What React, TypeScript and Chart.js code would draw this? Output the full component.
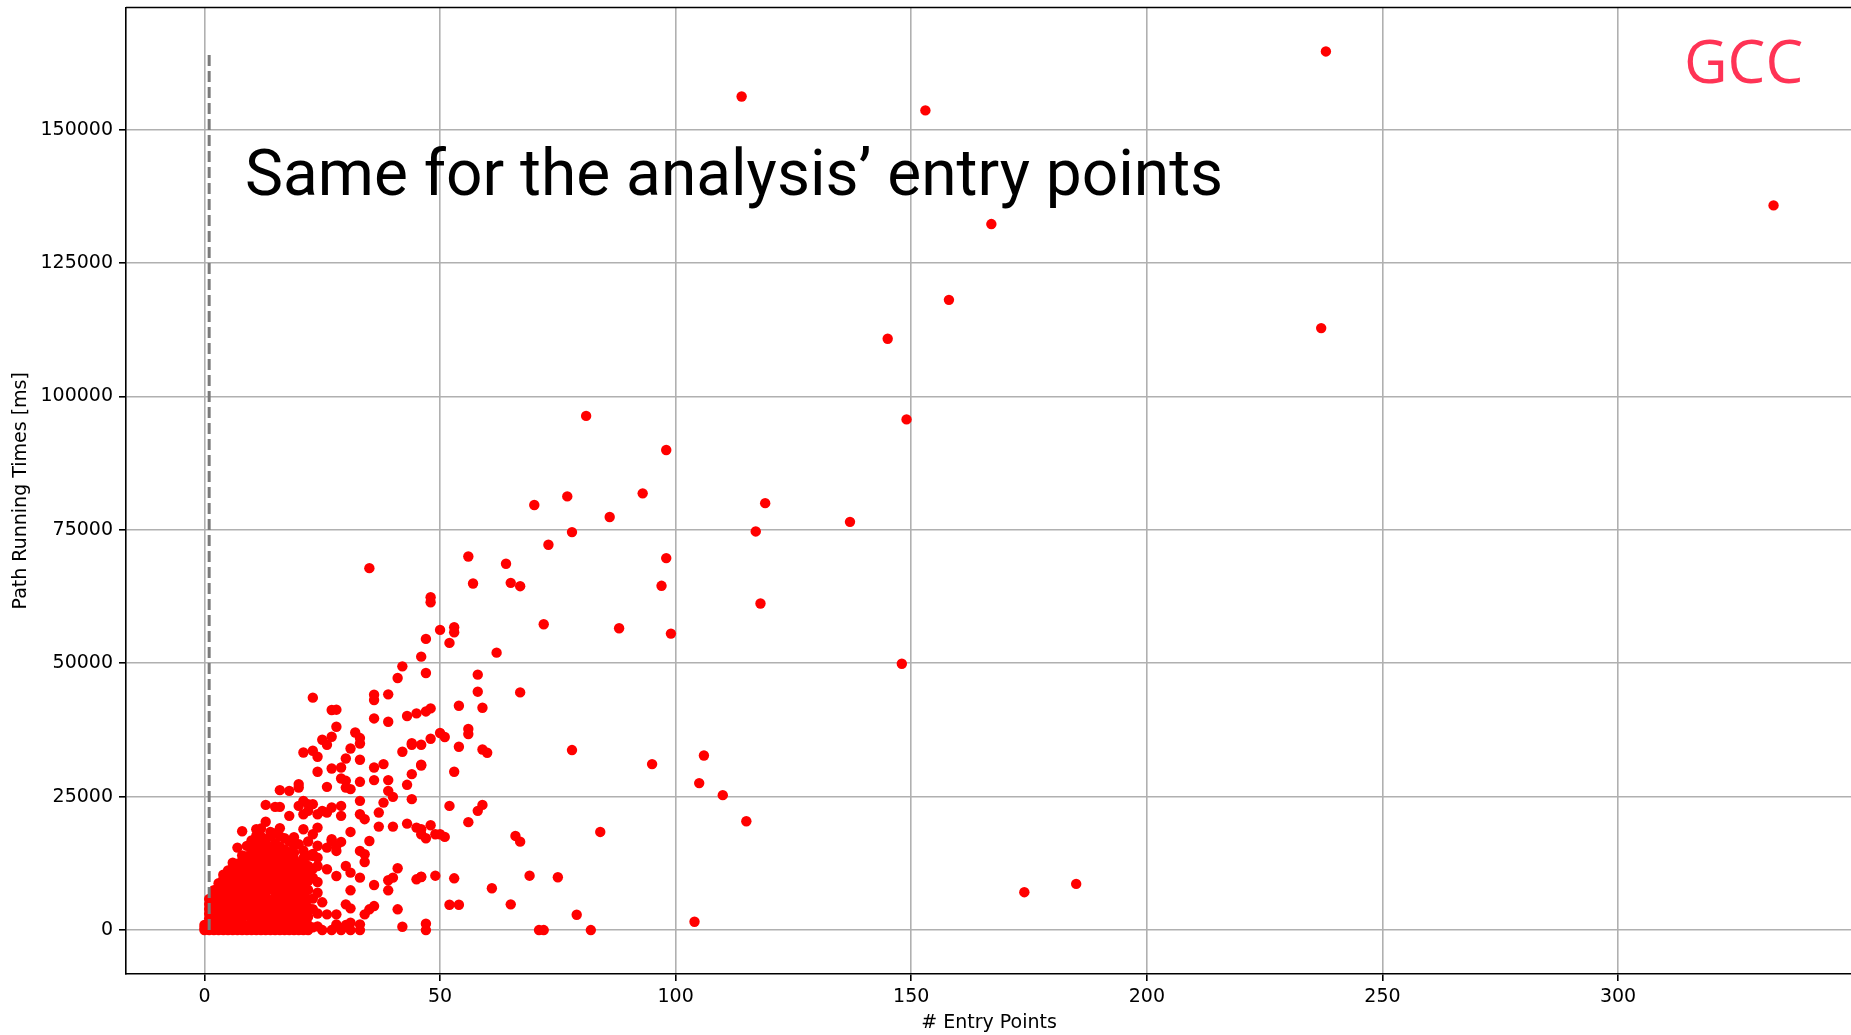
import React, { useEffect, useRef } from 'react';
import { Chart, registerables } from 'chart.js';

Chart.register(...registerables);

// Axis ticks
const xTickValues = [0, 50, 100, 150, 200, 250, 300];
const yTickValues = [0, 25000, 50000, 75000, 100000, 125000, 150000];

// Dense core: one column of running times (ms) per entry-point count 0..22
const coreEntryCounts = [0, 1, 2, 3, 4, 5, 6, 7, 8, 9, 10, 11, 12, 13, 14, 15, 16, 17, 18, 19, 20, 21, 22];
const coreTimes: number[][] = [
  [0, 380, 950],
  [0, 520, 1340, 2150, 3080, 3960, 4870, 5820],
  [0, 240, 930, 1760, 2690, 3640, 4480, 5430, 6380, 7460],
  [0, 610, 1480, 2420, 3290, 4310, 5170, 6140, 7060, 7990, 8790],
  [0, 290, 1120, 2030, 2870, 3920, 4760, 5740, 6690, 7620, 8580, 9530, 10380],
  [0, 720, 1590, 2530, 3460, 4420, 5380, 6330, 7280, 8260, 9240, 10170, 11160],
  [0, 410, 1230, 2080, 3040, 3970, 4990, 5920, 6880, 7870, 8910, 9830, 10790, 11680, 12630],
  [0, 780, 1720, 2640, 3580, 4530, 5470, 6520, 7480, 8530, 9460, 10420, 11380, 12440, 15450],
  [0, 330, 1270, 2230, 3170, 4140, 5090, 6080, 7130, 8040, 8990, 10030, 10980, 12010, 12960, 13980, 18520],
  [0, 880, 2870, 3830, 4790, 5820, 6790, 7830, 8760, 9810, 10760, 11820, 12790, 13840, 15770],
  [0, 470, 1480, 2440, 3380, 4370, 5330, 6290, 7320, 8210, 9230, 10180, 11230, 12170, 13210, 14180, 15230, 16790],
  [0, 1030, 1980, 3010, 3920, 4880, 5930, 6870, 7920, 8860, 9930, 10870, 11910, 12880, 13930, 14870, 15920, 16880, 17690, 18900],
  [0, 420, 1390, 2380, 3430, 4460, 5520, 6480, 7530, 8470, 9520, 10480, 11530, 12470, 13520, 14470, 15510, 16490, 17480, 19020],
  [0, 870, 1910, 2930, 3870, 4980, 6030, 7010, 7980, 9040, 9970, 11040, 11980, 13030, 13960, 15020, 15980, 17030, 20300],
  [0, 530, 1520, 2470, 3530, 4580, 5610, 7620, 8580, 9640, 10580, 11620, 12570, 13630, 14560, 15640, 17520, 18370],
  [0, 1080, 2120, 3070, 4130, 5170, 6230, 7180, 8230, 9180, 10230, 11170, 12240, 13180, 14230, 15160, 16220, 18100],
  [0, 630, 1570, 2630, 3680, 4720, 5680, 6730, 7680, 8720, 9680, 10730, 11680, 12720, 13670, 14720, 15680, 17570, 19100],
  [0, 970, 2030, 2980, 4030, 5070, 6130, 7070, 8120, 9080, 10130, 11070, 12130, 13070, 14120, 15080, 17200],
  [0, 480, 1530, 2480, 3520, 4570, 5630, 6580, 7630, 8570, 9630, 10570, 11630, 12580, 13620, 14580, 16570],
  [0, 1220, 2280, 3430, 4480, 5630, 6680, 7830, 8870, 10030, 11080, 12230, 13280, 14470, 15880, 17400],
  [0, 690, 1830, 2970, 4230, 5380, 6620, 7770, 9030, 10180, 11430, 12570, 16080],
  [0, 1380, 2830, 4170, 5630, 6980, 8420, 9770, 11230, 12380, 13470, 14900],
  [0, 920, 2480, 4130, 5770, 7530, 9180, 10830, 12030, 13900],
];

// Scattered runs with fewer than ~50 entry points: [entry points, ms]
const nearSpread: [number, number][] = [
  [13, 23460], [15, 23090], [16, 23090], [16, 26220], [18, 26090], [18, 21400], [20, 27350], [20, 23270],
  [20, 26710], [21, 24210], [21, 21710], [22, 23590], [22, 22340], [23, 23590], [24, 21710], [25, 22340],
  [21, 18900], [23, 17960], [24, 19200], [26, 15450], [27, 16700], [28, 15770], [23, 14250], [24, 13570],
  [23, 13890], [26, 22020], [27, 22960], [29, 23270], [29, 21400], [33, 21710], [34, 20780], [37, 22020],
  [37, 19390], [40, 19390], [43, 19950], [45, 19200], [46, 17960], [47, 17210], [48, 19650], [49, 17960],
  [35, 16700], [31, 18390], [29, 16520], [27, 17020], [28, 14830], [33, 14830], [34, 14210], [34, 12760],
  [24, 12010], [26, 11390], [30, 12010], [31, 10760], [33, 9820], [28, 10140], [36, 8450], [39, 9330],
  [40, 9820], [41, 11580], [39, 7450], [45, 9510], [46, 10000], [49, 10190], [31, 7450], [30, 4820],
  [31, 4070], [35, 3890], [36, 4500], [34, 2950], [41, 3890], [26, 2950], [28, 2950], [28, 1070],
  [30, 940], [31, 1370], [33, 1070], [33, 0], [42, 620], [47, 1180], [47, 0], [24, 700],
  [23, 500], [25, 0], [27, 0], [29, 0], [31, 0], [24, 9000], [24, 7000], [23, 5900],
  [23, 3900], [24, 3100], [25, 5200], [23, 9800], [23, 11500], [24, 15800], [22, 16600],
  [27, 41240], [28, 41300], [23, 43550], [36, 44110], [36, 43110], [39, 44170], [36, 39660], [39, 39040],
  [43, 40110], [45, 40600], [47, 40970], [48, 41540], [28, 38100], [32, 37030], [33, 35980], [33, 34970],
  [25, 35660], [26, 34720], [27, 36230], [21, 33280], [23, 33600], [24, 32470], [31, 34030], [42, 33410],
  [44, 35040], [44, 34720], [36, 30460], [30, 32150], [33, 31910], [24, 29660], [27, 30280], [29, 30460],
  [29, 28400], [30, 27970], [33, 27780], [36, 28100], [39, 28100], [44, 29220], [46, 30970], [43, 27220],
  [26, 26840], [31, 26410], [30, 26700], [38, 31100], [41, 47240], [42, 49420], [46, 51240], [47, 54560],
  [47, 48180], [40, 24960], [39, 26090], [38, 23890], [33, 24210], [44, 24530],
];

// Runs with more entry points, below 100 s
const midSpread: [number, number][] = [
  [48, 62370], [48, 61430], [50, 56250], [53, 56750], [53, 55800], [52, 53810], [62, 51990], [72, 57300],
  [88, 56560], [99, 55560], [58, 47860], [58, 44670], [67, 44540], [54, 42040], [59, 41670], [56, 37670],
  [56, 36730], [50, 36920], [51, 36170], [48, 35850], [46, 34720], [54, 34350], [59, 33840], [60, 33220],
  [46, 30840], [53, 29660], [78, 33730], [95, 31100], [106, 32720], [105, 27540], [110, 25280], [115, 20400],
  [52, 23270], [59, 23460], [58, 22340], [56, 20220], [46, 18900], [50, 17960], [51, 17460], [66, 17640],
  [67, 16570], [84, 18390], [46, 9950], [53, 9700], [69, 10190], [75, 9890], [61, 7830], [52, 4750],
  [54, 4750], [65, 4820], [79, 2870], [104, 1560], [71, 0], [72, 0], [82, 0],
  [81, 96350], [98, 89970], [77, 81270], [93, 81840], [70, 79650], [86, 77400], [78, 74580], [73, 72200],
  [35, 67820], [56, 70010], [98, 69700], [64, 68640], [57, 64940], [65, 65070], [67, 64440], [97, 64510],
];

// Largest and slowest analyses
const farOutliers: [number, number][] = [
  [238, 164650], [114, 156200], [153, 153600], [333, 135800], [167, 132300], [158, 118100], [237, 112800],
  [145, 110800], [149, 95700], [119, 80000], [137, 76500], [117, 74700], [118, 61200], [148, 49900],
  [174, 7100], [185, 8650],
];

// Reference marker drawn as a vertical dashed line
const referenceEntryPoints = 1;

const xAxisTitle = '# Entry Points';
const yAxisTitle = 'Path Running Times [ms]';
const headline = 'Same for the analysis\u2019 entry points';
const projectName = 'GCC';

const PAGE_W = 1851;
const PAGE_H = 1035;
const CANVAS_W = 1860;

export default function App() {
  const canvasRef = useRef<HTMLCanvasElement | null>(null);

  useEffect(() => {
    const canvas = canvasRef.current;
    if (!canvas) return;

    const points: { x: number; y: number }[] = [];
    coreEntryCounts.forEach((n, i) => coreTimes[i].forEach((t) => points.push({ x: n, y: t })));
    [...nearSpread, ...midSpread, ...farOutliers].forEach(([n, t]) => points.push({ x: n, y: t }));

    const xs = points.map((p) => p.x);
    const ys = points.map((p) => p.y);
    const xMin = Math.min(...xs);
    const xMax = Math.max(...xs);
    const yMin = Math.min(...ys);
    const yMax = Math.max(...ys);
    const xPad = (xMax - xMin) * 0.05;
    const yPad = (yMax - yMin) * 0.05;

    const referenceLine = [
      { x: referenceEntryPoints, y: yMin },
      { x: referenceEntryPoints, y: yMax },
    ];

    const font = { family: 'DejaVu Sans', size: 19 };

    const framePlugin = {
      id: 'frame',
      afterDraw(chart: Chart) {
        const { ctx, chartArea } = chart;
        ctx.save();
        ctx.strokeStyle = '#000';
        ctx.lineWidth = 1.6;
        ctx.beginPath();
        ctx.moveTo(chartArea.left, chartArea.top);
        ctx.lineTo(chartArea.right, chartArea.top);
        ctx.lineTo(chartArea.right, chartArea.bottom);
        ctx.stroke();

        ctx.fillStyle = '#000';
        ctx.textBaseline = 'alphabetic';
        ctx.textAlign = 'left';
        ctx.font = '64px Roboto';
        ctx.fillText(headline, 245, 195);

        ctx.fillStyle = '#ff3355';
        ctx.font = '60px "Open Sans"';
        ctx.fillText(projectName, 1684, 83);
        ctx.restore();
      },
    };

    const zeroPadding = (s: any) => {
      s.paddingTop = 0;
      s.paddingBottom = 0;
      s.paddingLeft = 0;
      s.paddingRight = 0;
    };

    const chart = new Chart(canvas, {
      type: 'scatter',
      data: {
        datasets: [
          {
            data: referenceLine,
            showLine: true,
            borderColor: '#7a7a7a',
            borderWidth: 3,
            borderDash: [11, 5],
            pointRadius: 0,
            order: 0,
          },
          {
            data: points,
            backgroundColor: '#ff0000',
            borderColor: '#ff0000',
            borderWidth: 0,
            pointRadius: 5.2,
            order: 1,
          },
        ],
      },
      options: {
        responsive: false,
        animation: false,
        devicePixelRatio: 1,
        layout: { padding: { top: 7.5, right: CANVAS_W - 1852, left: 0, bottom: 0 } },
        plugins: { legend: { display: false }, tooltip: { enabled: false } },
        scales: {
          x: {
            type: 'linear',
            min: xMin - xPad,
            max: xMax + xPad,
            z: 1,
            afterBuildTicks: (s: any) => {
              s.ticks = xTickValues.map((v) => ({ value: v }));
            },
            afterFit: (s: any) => {
              s.height = 61;
              zeroPadding(s);
            },
            grid: { color: '#b0b0b0', lineWidth: 1.6, tickLength: 7, tickColor: '#000', tickWidth: 1.6 },
            border: { color: '#000', width: 1.6 },
            ticks: { font, color: '#000', padding: 5, maxRotation: 0, autoSkip: false, callback: (v: any) => String(v) },
            title: { display: true, text: xAxisTitle, font, color: '#000', padding: { top: 0, bottom: 0.6 } },
          },
          y: {
            type: 'linear',
            min: yMin - yPad,
            max: yMax + yPad,
            z: 1,
            afterBuildTicks: (s: any) => {
              s.ticks = yTickValues.map((v) => ({ value: v }));
            },
            afterFit: (s: any) => {
              s.width = 126;
              zeroPadding(s);
            },
            grid: { color: '#b0b0b0', lineWidth: 1.6, tickLength: 7, tickColor: '#000', tickWidth: 1.6 },
            border: { color: '#000', width: 1.6 },
            ticks: { font, color: '#000', padding: 6, autoSkip: false, callback: (v: any) => String(v) },
            title: { display: true, text: yAxisTitle, font, color: '#000', padding: { top: 9.6, bottom: 0 } },
          },
        },
      },
      plugins: [framePlugin],
    });

    return () => chart.destroy();
  }, []);

  return (
    <div
      style={{
        position: 'fixed',
        left: 0,
        top: 0,
        width: PAGE_W,
        height: PAGE_H,
        overflow: 'hidden',
        background: '#fff',
      }}
    >
      <canvas ref={canvasRef} width={CANVAS_W} height={PAGE_H} style={{ display: 'block', width: CANVAS_W, height: PAGE_H }} />
    </div>
  );
}
